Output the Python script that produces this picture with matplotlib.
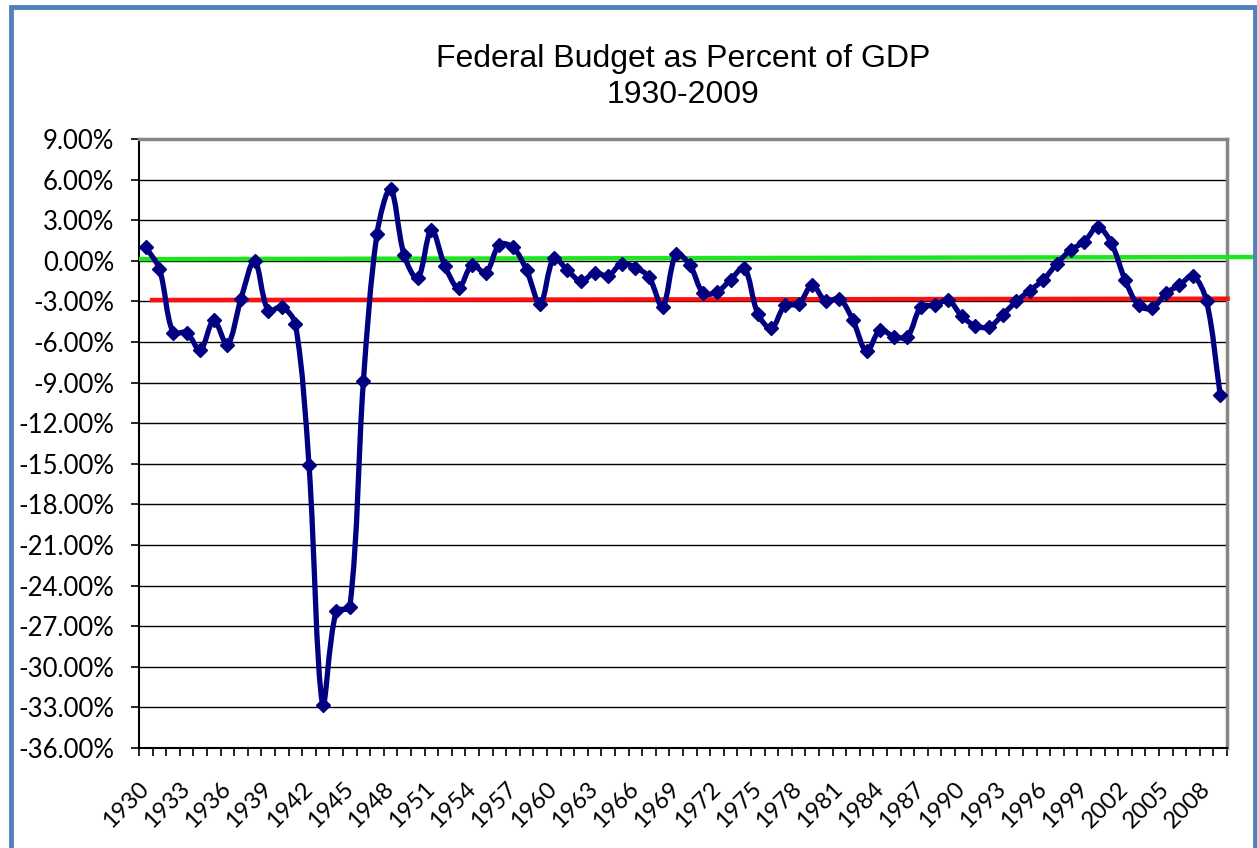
import numpy as np
import matplotlib
matplotlib.use("Agg")
import matplotlib.pyplot as plt
from matplotlib.path import Path
from matplotlib.patches import PathPatch, Rectangle
from matplotlib.ticker import FixedLocator, FuncFormatter

# budget surplus (+) / deficit (-) as percent of GDP
years = list(range(1930, 2010))
budget_pct = [
    1.0, -0.6, -5.3, -5.3, -6.6, -4.4, -6.2, -2.8, 0.0, -3.7,
    -3.4, -4.7, -15.1, -32.8, -25.9, -25.6, -8.9, 2.0, 5.3, 0.4,
    -1.3, 2.3, -0.4, -2.0, -0.3, -0.9, 1.2, 1.0, -0.7, -3.2,
    0.2, -0.7, -1.5, -0.9, -1.1, -0.2, -0.5, -1.2, -3.4, 0.5,
    -0.3, -2.4, -2.3, -1.4, -0.5, -3.9, -5.0, -3.3, -3.2, -1.8,
    -3.0, -2.8, -4.4, -6.7, -5.1, -5.6, -5.6, -3.4, -3.3, -2.9,
    -4.1, -4.8, -4.9, -4.0, -3.0, -2.2, -1.4, -0.2, 0.8, 1.4,
    2.5, 1.3, -1.4, -3.3, -3.5, -2.4, -1.8, -1.1, -3.0, -9.9,
]

# reference lines drawn on the chart (percent of GDP)
green_level = [0.12, 0.28]
red_level = [-2.9, -2.8]

title = "Federal Budget as Percent of GDP\n1930-2009"

fig = plt.figure(figsize=(12.57, 8.48), dpi=100)
ax = fig.add_axes([139 / 1257, 100 / 848, 1088 / 1257, 609 / 848])

x = np.arange(len(years), dtype=float)
y = np.array(budget_pct, dtype=float)
pts = np.column_stack([x, y])

# smoothed line like Excel: Bezier segments, tangents weighted by chord length
verts = [tuple(pts[0])]
codes = [Path.MOVETO]
n = len(pts)
for i in range(n - 1):
    p0 = pts[max(i - 1, 0)]
    p1 = pts[i]
    p2 = pts[i + 1]
    p3 = pts[min(i + 2, n - 1)]
    d01 = np.hypot(*(p1 - p0))
    d12 = np.hypot(*(p2 - p1))
    d23 = np.hypot(*(p3 - p2))
    c1 = p1 + (p2 - p0) * d12 / max(d01 + d12, 1e-9) / 3.0
    c2 = p2 - (p3 - p1) * d12 / max(d12 + d23, 1e-9) / 3.0
    verts += [tuple(c1), tuple(c2), tuple(p2)]
    codes += [Path.CURVE4] * 3
ax.add_patch(PathPatch(Path(verts, codes), facecolor="none",
                       edgecolor="#000080", lw=3.8, zorder=4,
                       capstyle="round", joinstyle="round"))
ax.plot(x, y, linestyle="none", marker="D", markersize=7,
        color="#000080", zorder=5)

# horizontal reference lines
ax.plot([-0.5, 81.6], green_level, color="#1EE61E", lw=3.2,
        zorder=3, clip_on=False, solid_capstyle="butt")
ax.plot([0.3, 79.7], red_level, color="#FF1010", lw=3.2,
        zorder=3, clip_on=False, solid_capstyle="butt")

ax.set_xlim(-0.5, len(years) - 0.5)
ax.set_ylim(-36, 9)

yticks = np.arange(-36, 10, 3)
ax.set_yticks(yticks)
ax.yaxis.set_major_formatter(FuncFormatter(lambda v, p: f"{v:.2f}%"))
ax.yaxis.grid(True, color="#000000", lw=1.0)
ax.set_axisbelow(True)

label_idx = list(range(0, len(years), 3))
ax.set_xticks(label_idx)
ax.set_xticklabels([str(years[i]) for i in label_idx], rotation=45,
                   ha="right", va="center", rotation_mode="anchor")
ax.xaxis.set_minor_locator(FixedLocator(np.arange(-0.5, len(years), 1)))
ax.tick_params(axis="x", which="major", length=0, pad=27)
ax.tick_params(axis="x", which="minor", length=6, width=1.2, color="#000000")
ax.tick_params(axis="y", length=6, width=1.2, pad=12)

for lab in ax.get_yticklabels():
    lab.set_fontfamily("Lato")
    lab.set_fontsize(18.5)
for lab in ax.get_xticklabels():
    lab.set_fontfamily("Lato")
    lab.set_fontsize(17)

for side in ["top", "right"]:
    ax.spines[side].set_color("#868686")
    ax.spines[side].set_linewidth(2.5)
for side in ["left", "bottom"]:
    ax.spines[side].set_color("#000000")
    ax.spines[side].set_linewidth(1.5)

fig.text(683 / 1257, 1 - 77 / 848, title, ha="center", va="center",
         fontsize=23, fontfamily="Liberation Sans", linespacing=1.25)

# outer chart frame (bottom edge lies outside the picture)
fig.patches.append(Rectangle((10.5 / 1257, -0.05), 1244 / 1257, 1.05 - 7 / 848,
                             transform=fig.transFigure, fill=False,
                             edgecolor="#4F81BD", lw=3.5))

fig.savefig("out.png", dpi=100)
